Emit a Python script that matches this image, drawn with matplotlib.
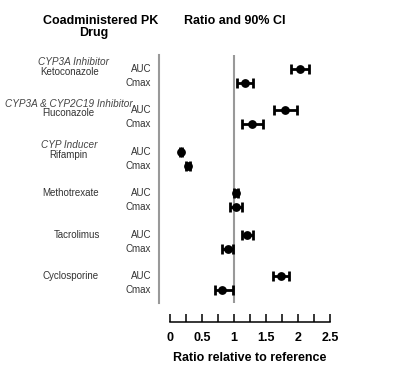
import matplotlib
matplotlib.use("Agg")
import matplotlib.pyplot as plt
import matplotlib.transforms as mtransforms
import numpy as np

plt.rcParams['font.family'] = ['Liberation Sans', 'DejaVu Sans']

# ---- data ----
drugs = ["Ketoconazole", "Fluconazole", "Rifampin", "Methotrexate", "Tacrolimus", "Cyclosporine"]
categories = ["CYP3A Inhibitor", "CYP3A & CYP2C19 Inhibitor", "CYP Inducer", "", "", ""]
pk_params = ["AUC", "Cmax"]
ratio_auc = [2.03, 1.79, 0.17, 1.03, 1.20, 1.73]
lo_auc = [1.89, 1.63, 0.16, 1.00, 1.13, 1.61]
hi_auc = [2.17, 1.98, 0.18, 1.06, 1.30, 1.86]
ratio_cmax = [1.17, 1.28, 0.28, 1.03, 0.90, 0.82]
lo_cmax = [1.04, 1.12, 0.25, 0.93, 0.82, 0.71]
hi_cmax = [1.30, 1.46, 0.31, 1.13, 0.98, 0.99]
xticks_major = [0, 0.5, 1, 1.5, 2, 2.5]
xticklabels = ["0", "0.5", "1", "1.5", "2", "2.5"]
reference_ratio = 1.0

# ---- layout ----
W, H = 400, 372
fig = plt.figure(figsize=(4, 3.72), dpi=100)
ax_l, ax_r, ax_t, ax_b = 159, 340, 55, 303
ax = fig.add_axes([ax_l / W, 1 - ax_b / H, (ax_r - ax_l) / W, (ax_b - ax_t) / H])
px_per_unit = 64.0
x0_px = 170
ax.set_xlim((ax_l - x0_px) / px_per_unit, (ax_r - x0_px) / px_per_unit)
ax.set_ylim(16.94, -1.01)

group_pitch = 3
ys_auc = [g * group_pitch for g in range(len(drugs))]
ys_cmax = [g * group_pitch + 1 for g in range(len(drugs))]

err_kw = dict(fmt='o', color='black', ms=5.3, elinewidth=2.0, capsize=3.6, capthick=2.0)
for ys, r, lo, hi in [(ys_auc, ratio_auc, lo_auc, hi_auc), (ys_cmax, ratio_cmax, lo_cmax, hi_cmax)]:
    r = np.array(r); lo = np.array(lo); hi = np.array(hi)
    ax.errorbar(r, ys, xerr=[r - lo, hi - r], zorder=3, **err_kw)

ax.axvline(reference_ratio, color='#999999', lw=1.5, zorder=1)

for s in ['top', 'right']:
    ax.spines[s].set_visible(False)
ax.spines['left'].set_color('#999999')
ax.spines['left'].set_linewidth(1.5)
ax.spines['bottom'].set_position(('outward', 19 * 72 / 100))
ax.spines['bottom'].set_bounds(xticks_major[0], xticks_major[-1])
ax.spines['bottom'].set_linewidth(1.1)
ax.set_yticks([])
ax.set_xticks(xticks_major)
ax.set_xticklabels(xticklabels, fontsize=9, fontweight='bold')
ax.set_xticks(np.arange(0.25, 2.5, 0.5), minor=True)
ax.tick_params(axis='x', which='both', direction='in', length=6, width=1.1, pad=7)
ax.set_xlabel("Ratio relative to reference", fontsize=9, fontweight='bold', labelpad=6)

# ---- labels ----
blend = mtransforms.blended_transform_factory(fig.transFigure, ax.transData)
label_color = '#333333'
for ys_list, name in [(ys_auc, pk_params[0]), (ys_cmax, pk_params[1])]:
    for y in ys_list:
        ax.text(151 / W, y, name, transform=blend, ha='right', va='center',
                fontsize=7, color=label_color)

drug_cx = [70, 68, 68, 71, 77, 71]
cat_cx = [73, 69, 69, 0, 0, 0]
down = mtransforms.ScaledTranslation(0, -3 / 100, fig.dpi_scale_trans)
up = mtransforms.ScaledTranslation(0, 6.5 / 100, fig.dpi_scale_trans)
for i, (d, c) in enumerate(zip(drugs, categories)):
    if c:
        ax.text(drug_cx[i] / W, ys_auc[i], d, transform=blend + down, ha='center',
                va='center', fontsize=7, color=label_color)
        ax.text(cat_cx[i] / W, ys_auc[i], c, transform=blend + up, ha='center',
                va='center', fontsize=7.2, style='italic', color='#444444')
    else:
        ax.text(drug_cx[i] / W, ys_auc[i], d, transform=blend, ha='center',
                va='center', fontsize=7, color=label_color)

fig.text(43 / W, 1 - 21 / H, "Coadministered PK", ha='left', va='center',
         fontsize=9, fontweight='bold')
fig.text(93.5 / W, 1 - 33 / H, "Drug", ha='center', va='center',
         fontsize=9, fontweight='bold')
fig.text(184 / W, 1 - 21 / H, "Ratio and 90% CI", ha='left', va='center',
         fontsize=9, fontweight='bold')

fig.savefig("out.png", dpi=100, facecolor='white')
